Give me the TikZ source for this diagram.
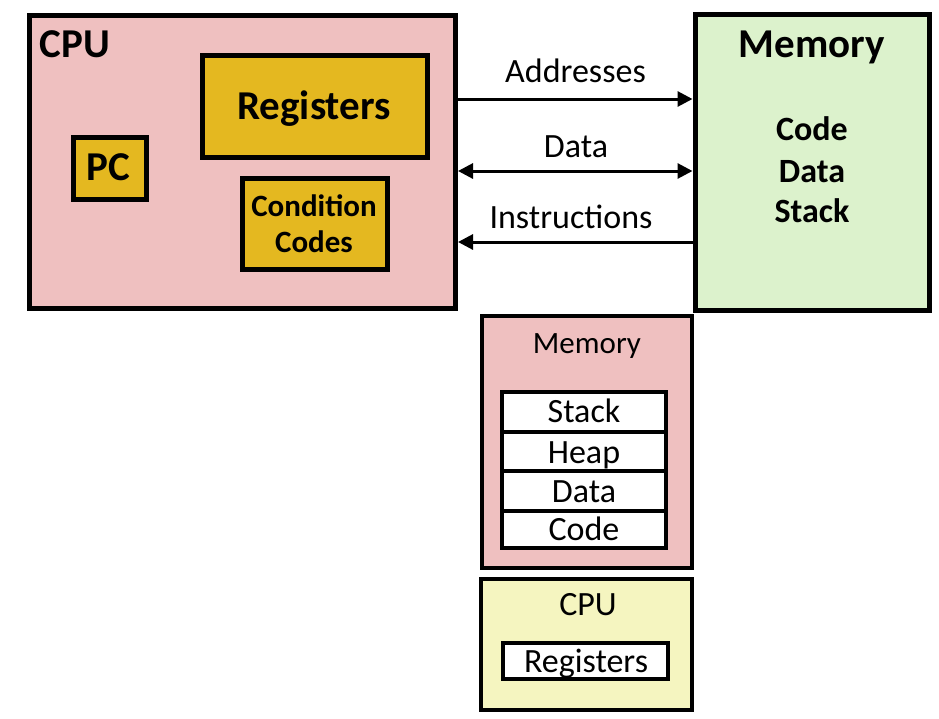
\documentclass[tikz,border=0pt]{standalone}
\usepackage{fontspec}
\setmainfont{Carlito}
\usetikzlibrary{arrows.meta}
\definecolor{cpupink}{RGB}{239,192,192}
\definecolor{memgreen}{RGB}{220,242,204}
\definecolor{reggold}{RGB}{228,184,32}
\definecolor{cpuyellow}{RGB}{245,245,192}
\begin{document}
\begin{tikzpicture}[x=1pt,y=-1pt,
  box/.style={draw=black, inner sep=0pt, rectangle},
  thick box/.style={box, line width=5pt},
  thin box/.style={box, line width=4pt},
  lbl/.style={inner sep=0pt, anchor=base},
  big/.style={lbl, font=\fontsize{41}{45}\selectfont\bfseries},
  ccf/.style={lbl, font=\fontsize{31}{35}\selectfont\bfseries},
  mid/.style={lbl, font=\fontsize{34}{38}\selectfont\bfseries},
  arrlbl/.style={lbl, font=\fontsize{34}{38}\selectfont},
  small/.style={lbl, font=\fontsize{34}{38}\selectfont},
  smalltitle/.style={lbl, font=\fontsize{31}{35}\selectfont},
  tip/.tip={Triangle[length=15pt,width=15pt]},
  conn/.style={line width=3pt},
]
\useasboundingbox (0,0) rectangle (939,718);
% upper CPU
\node[thick box, fill=cpupink, minimum width=426pt, minimum height=293pt] (cpu) at (242.5,162) {};
\node[thick box, fill=reggold, minimum width=225pt, minimum height=102pt] (reg) at (314.5,106) {};
\node[thick box, fill=reggold, minimum width=73pt, minimum height=62pt] (pc) at (109.5,168) {};
\node[thick box, fill=reggold, minimum width=145pt, minimum height=91pt] (cc) at (314.5,223.5) {};
\node[big] (cputxt) at (75,57) {CPU};
\node[big] (regtxt) at (314,119) {Registers};
\node[big] (pctxt) at (108,180) {PC};
\node[ccf] (cctxt1) at (314,216) {Condition};
\node[ccf] (cctxt2) at (314,252) {Codes};
% upper Memory
\node[thick box, fill=memgreen, minimum width=234pt, minimum height=296pt] (mem) at (812,162) {};
\node[big] (memtxt) at (812,57) {Memory};
\node[mid] (memcode) at (812,140) {Code};
\node[mid] (memdata) at (812,182) {Data};
\node[mid] (memstack) at (812,222) {Stack};
% connectors
\coordinate (yaddr) at (0,99);
\coordinate (ydata) at (0,171);
\coordinate (yinstr) at (0,242);
\draw[conn, -tip] (cpu.east |- yaddr) -- (mem.west |- yaddr);
\draw[conn, tip-tip] (cpu.east |- ydata) -- (mem.west |- ydata);
\draw[conn, tip-] (cpu.east |- yinstr) -- (mem.west |- yinstr);
\node[arrlbl] (addrtxt) at (575.5,82) {Addresses};
\node[arrlbl] (datatxt) at (576,157) {Data};
\node[arrlbl] (instrtxt) at (571,228) {Instructions};
% lower Memory
\node[thin box, fill=cpupink, minimum width=210pt, minimum height=252pt] (lmem) at (587,442) {};
\node[smalltitle] (lmemtxt) at (587,353) {Memory};
\node[thin box, fill=white, minimum width=164pt, minimum height=40pt] (rstack) at (584,412) {};
\node[thin box, fill=white, minimum width=164pt, minimum height=39pt] (rheap) at (584,451.5) {};
\node[thin box, fill=white, minimum width=164pt, minimum height=40pt] (rdata) at (584,491) {};
\node[thin box, fill=white, minimum width=164pt, minimum height=37pt] (rcode) at (584,529.5) {};
\node[small] (tstack) at (584,422) {Stack};
\node[small] (theap) at (584,463) {Heap};
\node[small] (tdata) at (584,502) {Data};
\node[small] (tcode) at (584,540) {Code};
% lower CPU
\node[thin box, fill=cpuyellow, minimum width=211pt, minimum height=131pt] (lcpu) at (586.5,644.5) {};
\node[small] (lcputxt) at (588,615) {CPU};
\node[thin box, fill=white, minimum width=165pt, minimum height=36pt] (lreg) at (585.5,661) {};
\node[small] (lregtxt) at (586,672) {Registers};
\end{tikzpicture}
\end{document}
